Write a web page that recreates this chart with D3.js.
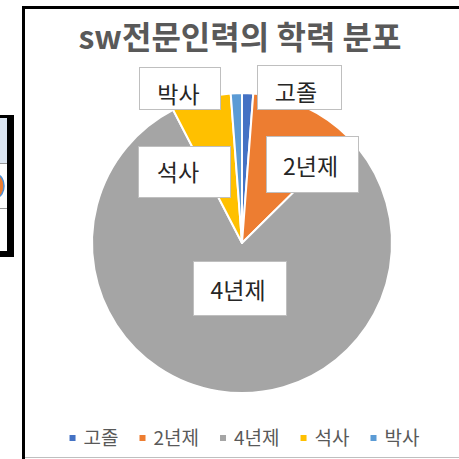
<!DOCTYPE html>
<html>
<head>
<meta charset="utf-8">
<script src="https://cdn.jsdelivr.net/npm/d3@7"></script>
<style>
  body { margin: 0; background: #fff; }
  svg { display: block; font-family: "Noto Sans CJK KR", "Noto Sans", sans-serif; }
</style>
</head>
<body>
<div id="chart"></div>
<script>
// data
const categories = ["고졸", "2년제", "4년제", "석사", "박사"];
const values = [1.2, 11.4, 79.8, 6.4, 1.2];
const colors = ["#4472C4", "#ED7D31", "#A5A5A5", "#FFC000", "#5B9BD5"];
const title = "sw전문인력의 학력 분포";

// label boxes, placed by hand like in the sheet (offsets from pie centre)
const labelBox = [
  { x: 15, y: -178, w: 84, h: 44, tx: 54, ty: -142 },
  { x: 24, y: -107, w: 92, h: 56, tx: 68.5, ty: -68.5 },
  { x: -49, y: 18, w: 93, h: 54, tx: -4, ty: 56 },
  { x: -104, y: -97, w: 92, h: 51, tx: -64, ty: -62 },
  { x: -103, y: -176, w: 81, h: 42, tx: -63.5, ty: -140 }
];

const W = 459, H = 459;
const cx = 242, cy = 243, R = 150;

const svg = d3.select("#chart").append("svg")
  .attr("width", W).attr("height", H);

// bit of the neighbouring table peeking in on the left
const side = svg.append("g");
side.append("rect").attr("x", 0).attr("y", 118).attr("width", 7).attr("height", 45).attr("fill", "#dce6f2");
side.append("ellipse").attr("cx", -3).attr("cy", 186).attr("rx", 7).attr("ry", 11)
  .attr("fill", "#ED7D31").attr("stroke", "#4a8ed6").attr("stroke-width", 1.5);
side.append("line").attr("x1", 0).attr("x2", 7).attr("y1", 163.5).attr("y2", 163.5).attr("stroke", "#999");
side.append("line").attr("x1", 0).attr("x2", 7).attr("y1", 208.5).attr("y2", 208.5).attr("stroke", "#999");
side.append("rect").attr("x", 0).attr("y", 115).attr("width", 14).attr("height", 3).attr("fill", "#000");
side.append("rect").attr("x", 7).attr("y", 115).attr("width", 7).attr("height", 142).attr("fill", "#000");
side.append("rect").attr("x", 0).attr("y", 251).attr("width", 14).attr("height", 6).attr("fill", "#000");

// chart frame
svg.append("rect").attr("x", 22).attr("y", 6).attr("width", W - 22).attr("height", 3).attr("fill", "#000");
svg.append("rect").attr("x", 22).attr("y", 6).attr("width", 3).attr("height", H - 6).attr("fill", "#000");
svg.append("line").attr("x1", 25).attr("x2", W).attr("y1", 457.5).attr("y2", 457.5).attr("stroke", "#bfbfbf");

// title
svg.append("text")
  .attr("x", 240).attr("y", 49)
  .attr("text-anchor", "middle")
  .style("font-size", "32px").style("font-weight", "bold")
  .attr("fill", "#595959")
  .text(title);

// pie
const pie = d3.pie().sort(null).value(d => d)(values);
const arc = d3.arc().innerRadius(0).outerRadius(R);

const g = svg.append("g").attr("transform", `translate(${cx},${cy})`);
g.selectAll("path.slice")
  .data(pie)
  .enter().append("path")
  .attr("class", "slice")
  .attr("d", arc)
  .attr("fill", (d, i) => colors[i])
  .attr("stroke", "#fff")
  .attr("stroke-width", 2)
  .attr("stroke-linejoin", "round");

// data labels
const lab = g.selectAll("g.lab")
  .data(pie)
  .enter().append("g").attr("class", "lab");

lab.append("rect")
  .attr("x", (d, i) => labelBox[i].x + 0.5)
  .attr("y", (d, i) => labelBox[i].y + 0.5)
  .attr("width", (d, i) => labelBox[i].w)
  .attr("height", (d, i) => labelBox[i].h)
  .attr("fill", "#fff")
  .attr("stroke", "#bfbfbf");

lab.append("text")
  .attr("x", (d, i) => labelBox[i].tx)
  .attr("y", (d, i) => labelBox[i].ty)
  .attr("text-anchor", "middle")
  .style("font-size", "23px")
  .attr("fill", "#262626")
  .text((d, i) => categories[i]);

// legend
const legend = svg.append("g");
const items = legend.selectAll("g")
  .data(categories)
  .enter().append("g");

items.append("rect")
  .attr("y", 435).attr("width", 6).attr("height", 6)
  .attr("fill", (d, i) => colors[i]);

items.append("text")
  .attr("x", 14).attr("y", 445)
  .style("font-size", "19px")
  .attr("fill", "#595959")
  .text(d => d);

var xpos = 0;
items.each(function () {
  var w = d3.select(this).select("text").node().getComputedTextLength();
  d3.select(this).attr("transform", `translate(${xpos},0)`);
  xpos += 14 + w + 21;
});
var total = xpos - 21;
legend.attr("transform", `translate(${244.5 - total / 2},0)`);
</script>
</body>
</html>
